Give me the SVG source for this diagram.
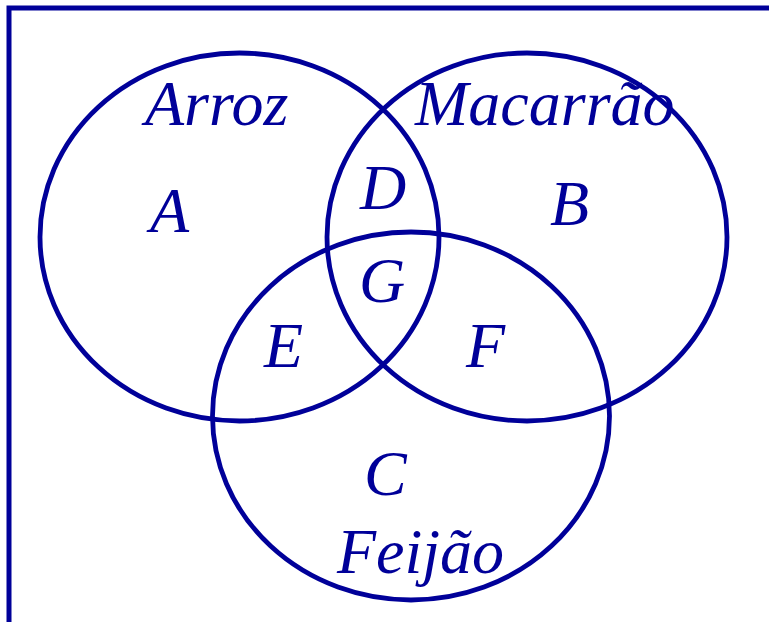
<svg xmlns="http://www.w3.org/2000/svg" width="769" height="622" viewBox="0 0 769 622">
<style>
.set{fill:none;stroke:#000099;stroke-width:4.8}
.t{font-family:"Liberation Serif","Times New Roman",serif;font-style:italic;font-size:64px;fill:#000099}
</style>
<rect width="769" height="622" fill="#fff"/>
<path d="M9,622 V8 H769" fill="none" stroke="#000099" stroke-width="5"/>
<g id="arroz"><ellipse class="set" cx="239.5" cy="237" rx="199.5" ry="184"/><text class="t" x="145" y="125">Arroz</text></g>
<g id="macarrao"><ellipse class="set" cx="527" cy="237" rx="200" ry="184"/><text class="t" x="415" y="125">Macarrão</text></g>
<g id="feijao"><ellipse class="set" cx="411" cy="416" rx="198.5" ry="184"/><text class="t" x="337" y="573">Feijão</text></g>
<g id="A"><text class="t" x="150" y="232">A</text></g>
<g id="B"><text class="t" x="550" y="225">B</text></g>
<g id="C"><text class="t" x="364" y="495">C</text></g>
<g id="D"><text class="t" x="360" y="209">D</text></g>
<g id="E"><text class="t" x="264" y="367">E</text></g>
<g id="F"><text class="t" x="466" y="367">F</text></g>
<g id="G"><text class="t" x="359" y="302">G</text></g>
<g id="connectors"/>
</svg>
